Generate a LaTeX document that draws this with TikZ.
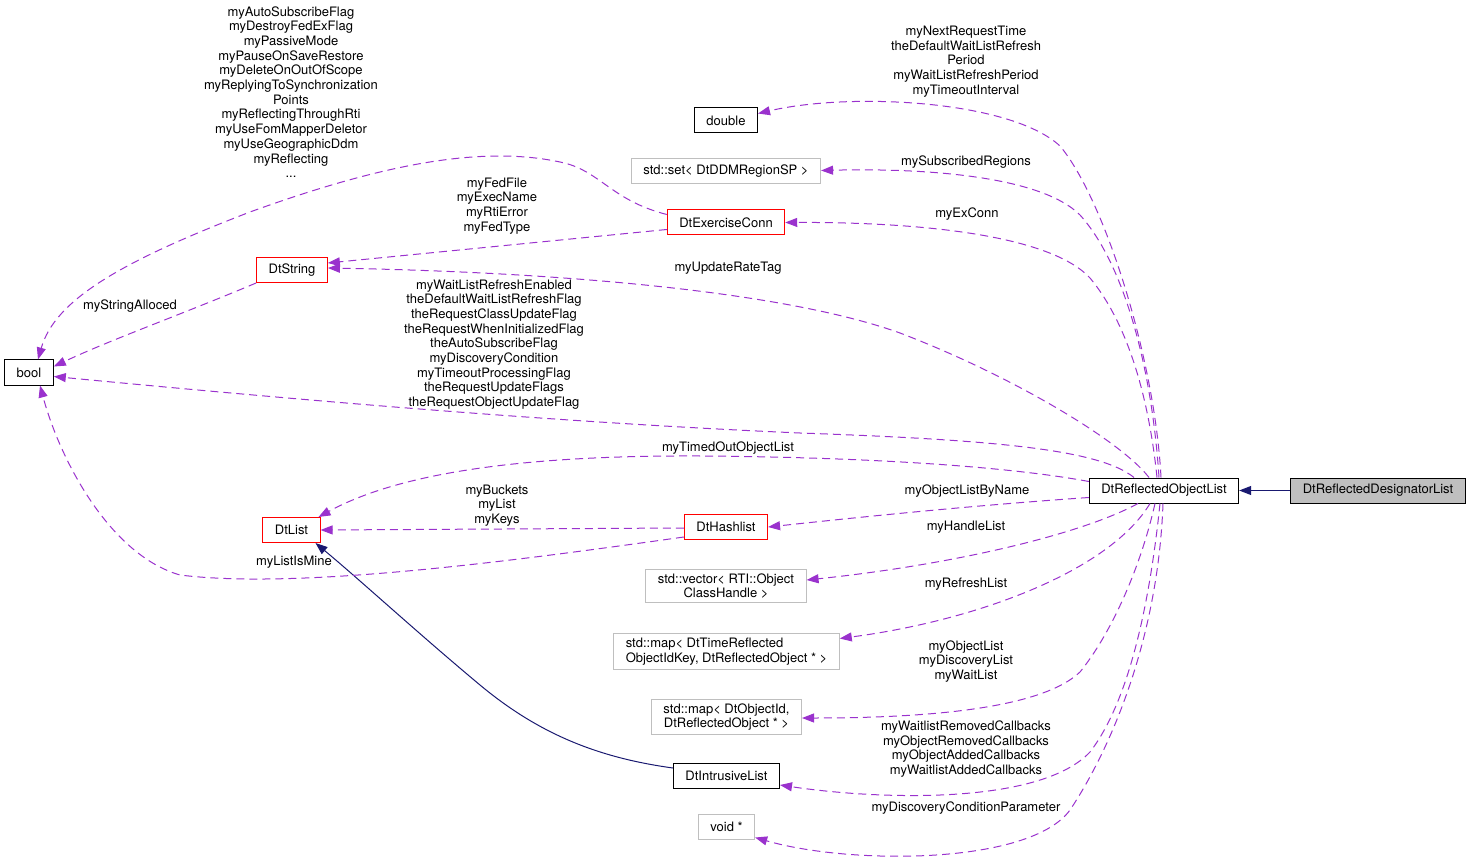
\documentclass[tikz,border=0pt]{standalone}
\usepackage{fontspec}
\setmainfont{TeX Gyre Heros}
\usetikzlibrary{arrows.meta}

\definecolor{memberclr}{HTML}{9A32CD}
\definecolor{baseclr}{HTML}{191970}
\definecolor{boxgrey}{HTML}{BFBFBF}

\begin{document}
\begin{tikzpicture}[
            x=1pt, y=-1pt,
            every node/.style={font=\fontsize{13}{14.7}\selectfont},
            cls/.style={draw, line width=1pt, inner xsep=12pt, inner ysep=4pt,
                minimum height=25pt, align=center},
            red box/.style={cls, draw=red},
            grey box/.style={cls, draw=boxgrey},
            lbl/.style={inner sep=0pt, align=center},
            member/.style={draw=memberclr, line width=1pt, dash pattern=on 8pt off 5pt,
                -{Triangle[length=12pt, width=9pt, fill=memberclr]}},
            base/.style={draw=baseclr, line width=1pt,
                -{Triangle[length=12pt, width=9pt, fill=baseclr]}}
        ]

            \useasboundingbox (0,0) rectangle (1472,866);

            % classes
            \node[cls] (dbl) at (726,120.5) {double};
            \node[grey box] (dset) at (726,171.5) {std::set< DtDDMRegionSP >};
            \node[red box] (exconn) at (726,222.5) {DtExerciseConn};
            \node[red box] (dtstr) at (292,270) {DtString};
            \node[cls] (bool) at (29,372.5) {bool};
            \node[red box] (dtlist) at (291.5,530) {DtList};
            \node[red box] (hash) at (726,527) {DtHashlist};
            \node[grey box] (vec) at (726,586) {std::vector< RTI::Object\\ClassHandle >};
            \node[grey box, align=left] (tmap) at (726.5,651.5) {std::map< DtTimeReflected\\ObjectIdKey, DtReflectedObject * >};
            \node[grey box] (omap) at (726.5,717) {std::map< DtObjectId,\\DtReflectedObject * >};
            \node[cls] (intr) at (726.5,776) {DtIntrusiveList};
            \node[grey box] (voidp) at (726.5,826.5) {void *};
            \node[cls] (robj) at (1164,490.5) {DtReflectedObjectList};
            \node[cls, fill=boxgrey] (desig) at (1378,490.5) {DtReflectedDesignatorList};

            % inheritance
            \draw[base] (desig.west) -- (robj.east);
            \draw[base] ([yshift=8pt]intr.west) .. controls (600,758) and (540,735) .. (480,685)
                .. controls (420,635) and (360,580) .. ([xshift=24pt]dtlist.south);

            % members of DtReflectedObjectList
            \draw[member] ([xshift=-3pt]robj.north) .. controls (1155,360) and (1105,200) .. (1060,146)
                .. controls (1010,100) and (850,92) .. ([yshift=7pt]dbl.east);
            \draw[member] ([xshift=-5pt]robj.north) .. controls (1152,370) and (1125,265) .. (1080,215)
                .. controls (1040,175) and (920,168) .. ([yshift=1pt]dset.east);
            \draw[member] ([xshift=-7pt]robj.north) .. controls (1148,390) and (1125,320) .. (1090,278)
                .. controls (1050,235) and (920,222) .. (exconn.east);
            \draw[member] ([xshift=-15pt]robj.north) .. controls (1120,440) and (1010,375) .. (900,333)
                .. controls (780,290) and (550,272) .. ([yshift=2pt]dtstr.east);
            \draw[member] ([xshift=-30pt]robj.north) .. controls (1100,450) and (1000,440) .. (800,433)
                .. controls (550,422) and (300,400) .. ([yshift=-4pt]bool.east);
            \draw[member] ([yshift=9pt]robj.west) .. controls (1000,465) and (850,457) .. (700,456)
                .. controls (500,455) and (390,478) .. ([xshift=27pt]dtlist.north);
            \draw[member] ([yshift=-7pt]robj.west) .. controls (980,505) and (880,515) .. (hash.east);
            \draw[member] ([xshift=-26pt]robj.south) .. controls (1080,535) and (950,565) .. ([yshift=6pt]vec.east);
            \draw[member] ([xshift=-14pt]robj.south) .. controls (1110,570) and (980,620) .. ([yshift=13pt]tmap.east);
            \draw[member] ([xshift=-9pt]robj.south) .. controls (1140,570) and (1110,635) .. (1080,672)
                .. controls (1040,710) and (920,718) .. ([yshift=-1pt]omap.east);
            \draw[member] ([xshift=-4pt]robj.south) .. controls (1150,600) and (1130,700) .. (1090,752)
                .. controls (1040,805) and (880,800) .. ([yshift=-9pt]intr.east);
            \draw[member] ([xshift=-1pt]robj.south) .. controls (1158,640) and (1110,750) .. (1070,810)
                .. controls (1030,865) and (850,865) .. ([yshift=-11pt]voidp.east);

            % other members
            \draw[member] ([yshift=-7pt]exconn.west) -- ([yshift=7pt]dtstr.east);
            \draw[member] ([yshift=8pt]exconn.west) .. controls (610,200) and (600,170) .. (560,162)
                .. controls (480,145) and (380,165) .. (250,212)
                .. controls (120,262) and (55,300) .. ([xshift=9pt]bool.north);
            \draw[member] (dtstr.south west) .. controls (180,315) and (110,340) .. ([yshift=6pt]bool.east);
            \draw[member] ([yshift=-1pt]hash.west) -- (dtlist.east);
            \draw[member] ([yshift=-10pt]hash.west) .. controls (520,560) and (300,590) .. (180,575)
                .. controls (110,555) and (60,460) .. ([xshift=11pt]bool.south);

            % labels
            \node[lbl] (lbBoolA) at (291,92) {myAutoSubscribeFlag\\myDestroyFedExFlag\\myPassiveMode\\myPauseOnSaveRestore\\myDeleteOnOutOfScope\\myReplyingToSynchronization\\Points\\myReflectingThroughRti\\myUseFomMapperDeletor\\myUseGeographicDdm\\myReflecting\\...};
            \node[lbl] (lbFed) at (497,206) {myFedFile\\myExecName\\myRtiError\\myFedType};
            \node[lbl] (lbRate) at (728,268) {myUpdateRateTag};
            \node[lbl] (lbBoolB) at (494,344.5) {myWaitListRefreshEnabled\\theDefaultWaitListRefreshFlag\\theRequestClassUpdateFlag\\theRequestWhenInitializedFlag\\theAutoSubscribeFlag\\myDiscoveryCondition\\myTimeoutProcessingFlag\\theRequestUpdateFlags\\theRequestObjectUpdateFlag};
            \node[lbl] (lbAlloc) at (130,306) {myStringAlloced};
            \node[lbl] (lbTimed) at (728,448) {myTimedOutObjectList};
            \node[lbl] (lbKeys) at (497,505.5) {myBuckets\\myList\\myKeys};
            \node[lbl] (lbMine) at (294,562) {myListIsMine};
            \node[lbl] (lbTime) at (966,61.5) {myNextRequestTime\\theDefaultWaitListRefresh\\Period\\myWaitListRefreshPeriod\\myTimeoutInterval};
            \node[lbl] (lbRegions) at (966,162) {mySubscribedRegions};
            \node[lbl] (lbExConn) at (967,214) {myExConn};
            \node[lbl] (lbByName) at (967,491) {myObjectListByName};
            \node[lbl] (lbHandle) at (966,527) {myHandleList};
            \node[lbl] (lbRefresh) at (966,584) {myRefreshList};
            \node[lbl] (lbObjList) at (966,661.5) {myObjectList\\myDiscoveryList\\myWaitList};
            \node[lbl] (lbCallbacks) at (966,749) {myWaitlistRemovedCallbacks\\myObjectRemovedCallbacks\\myObjectAddedCallbacks\\myWaitlistAddedCallbacks};
            \node[lbl] (lbParam) at (966,808) {myDiscoveryConditionParameter};
        \end{tikzpicture}
\end{document}
